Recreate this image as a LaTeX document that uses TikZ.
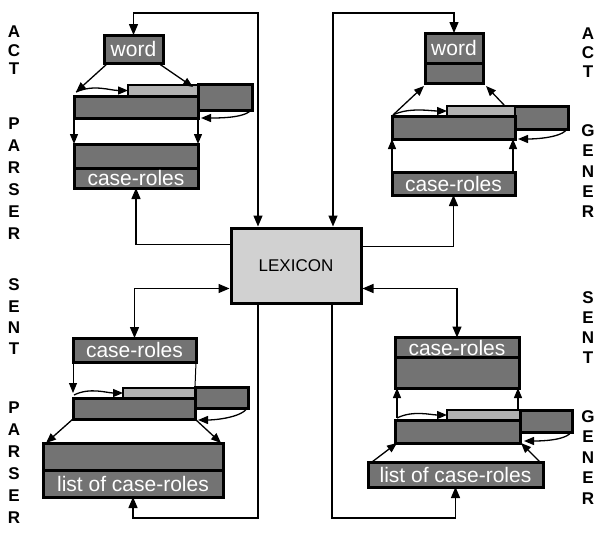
\documentclass[tikz,border=0pt]{standalone}
\usepackage{fontspec}
\setmainfont{Liberation Sans}
\usetikzlibrary{arrows.meta,calc}
\begin{document}
\begin{tikzpicture}[x=1pt,y=-1pt,
    hatch/.style={draw=black,line width=3pt,fill=black!55,inner sep=0pt,outer sep=0pt,text=white,font=\fontsize{21}{23}\selectfont},
    stripbox/.style={draw=black,line width=1.6pt,fill=black!30,inner sep=0pt,outer sep=0pt},
    lexbox/.style={draw=black,line width=3pt,fill=black!18,inner sep=0pt,minimum width=130,minimum height=75,font=\fontsize{17}{20}\selectfont},
    link/.style={line width=1.3pt,>={Triangle[length=11pt,width=9pt]}},
    flow/.style={line width=1.3pt,-{Triangle[length=10pt,width=8pt]}},
    sidelet/.style={font=\bfseries\fontsize{17}{20}\selectfont,inner sep=0pt}]
    \useasboundingbox (0,0) rectangle (598,538);
    \node[hatch,minimum width=59,minimum height=28] (apword) at (133.5,49) {word};
    \node[hatch,minimum width=54,minimum height=26] (apright) at (225,97) {};
    \node[stripbox,minimum width=70,minimum height=11] (apstrip) at (163,90.5) {};
    \node[hatch,minimum width=124,minimum height=22] (apbar) at (136,107) {};
    \node[hatch,minimum width=124,minimum height=24] (aptop) at (136,156) {};
    \node[hatch,minimum width=124,minimum height=20] (aproles) at (136,178) {case-roles};
    \draw[flow] ($(apword.south west)+(4,0)$) -- ($(apbar.north west)+(2,-4)$);
    \draw[flow] ($(apword.south east)+(-5,0)$) -- ($(apstrip.north east)+(-5,2)$);
    \draw[flow] ($(apbar.north west)+(2,-4)$) .. controls +(18,-8) and +(-18,0) .. (apstrip.west);
    \draw[flow] ($(apright.south east)+(0,-6)$) .. controls +(4,14) and +(20,0) .. ($(apbar.south east)+(3,0)$);
    \draw[flow] (apbar.south west) -- (aptop.north west);
    \draw[flow] (apbar.south east) -- (aptop.north east);
    \node[hatch,minimum width=58,minimum height=30] (agword) at (454,48) {word};
    \node[hatch,minimum width=58,minimum height=20] (agwbot) at (454,73) {};
    \node[hatch,minimum width=54,minimum height=23] (agright) at (541,117.5) {};
    \node[stripbox,minimum width=68,minimum height=10] (agstrip) at (481,111) {};
    \node[hatch,minimum width=123,minimum height=23] (agbar) at (453.5,127.5) {};
    \node[hatch,minimum width=123,minimum height=23] (agroles) at (453.5,183.5) {case-roles};
    \draw[flow] ($(agbar.north west)+(1,-1)$) -- ($(agwbot.south west)+(-1,3)$);
    \draw[flow] ($(agstrip.north east)+(-10,0)$) -- ($(agwbot.south east)+(3,3)$);
    \draw[flow] ($(agbar.north west)+(1,-1)$) .. controls +(16,-8) and +(-16,0) .. (agstrip.west);
    \draw[flow] ($(agright.south east)+(0,-6)$) .. controls +(4,14) and +(20,0) .. ($(agbar.south east)+(3,0)$);
    \draw[flow] (agroles.north west) -- (agbar.south west);
    \draw[flow] ($(agroles.north east)+(-2,0)$) -- ($(agbar.south east)+(-2,0)$);
    \node[hatch,minimum width=123,minimum height=24] (sproles) at (134.5,350) {case-roles};
    \node[hatch,minimum width=53,minimum height=21] (spright) at (221.5,397.5) {};
    \node[stripbox,minimum width=72,minimum height=10] (spstrip) at (159,393) {};
    \node[hatch,minimum width=122,minimum height=21] (spbar) at (134,408.5) {};
    \node[hatch,minimum width=180,minimum height=27] (sptop) at (133,456.5) {};
    \node[hatch,minimum width=180,minimum height=27] (splist) at (133,483.5) {list of case-roles};
    \draw[flow,line width=1pt] (sproles.south west) -- ($(spbar.north west)+(0,-5)$);
    \draw[line width=1pt] (sproles.south east) -- (spright.north west);
    \draw[flow] ($(spbar.north west)+(1,-3)$) .. controls +(16,-8) and +(-16,0) .. (spstrip.west);
    \draw[flow] ($(spright.south east)+(0,-6)$) .. controls +(4,14) and +(20,0) .. ($(spbar.south east)+(3,1)$);
    \draw[flow] (spbar.south west) -- ($(sptop.north west)+(3,0)$);
    \draw[flow] (spbar.south east) -- ($(sptop.north east)+(-2,0)$);
    \node[hatch,minimum width=124,minimum height=20] (sgroles) at (457,347.5) {case-roles};
    \node[hatch,minimum width=124,minimum height=31] (sgrbot) at (457,372.5) {};
    \node[hatch,minimum width=52,minimum height=22] (sgright) at (546,421) {};
    \node[stripbox,minimum width=73,minimum height=10] (sgstrip) at (483.5,415) {};
    \node[hatch,minimum width=125,minimum height=23] (sgbar) at (457.5,431.5) {};
    \node[hatch,minimum width=175,minimum height=25] (sglist) at (455.5,474.5) {list of case-roles};
    \draw[flow] ($(sgbar.north west)+(2,-2)$) -- ($(sgrbot.south west)+(2,0)$);
    \draw[flow] ($(sgstrip.north east)+(-2,0)$) -- ($(sgrbot.south east)+(-1,0)$);
    \draw[flow] ($(sgbar.north west)+(2,-2)$) .. controls +(16,-8) and +(-16,0) .. (sgstrip.west);
    \draw[flow] ($(sgright.south east)+(0,-6)$) .. controls +(4,14) and +(20,0) .. ($(sgbar.south east)+(4,-2)$);
    \draw[flow] ($(sglist.north west)+(4,0)$) -- ($(sgbar.south west)+(2,0)$);
    \draw[flow] ($(sglist.north east)+(-3,0)$) -- ($(sgbar.south east)+(1,0)$);
    \node[lexbox] (lex) at (296,265.5) {LEXICON};
    \coordinate (cTL) at (258,13); \coordinate (cTR) at (333,13);
    \coordinate (cBL) at (258,518); \coordinate (cBR) at (332,518);
    \draw[link,<->] (apword.north) |- (cTL) -- (cTL |- lex.north);
    \draw[link,<->] (agword.north) |- (cTR) -- (cTR |- lex.north);
    \draw[link,->] ($(lex.north west)+(0,18)$) -| (aproles.south);
    \draw[link,<->] ($(lex.south west)+(0,-16)$) -| (sproles.north);
    \draw[link,->] ($(lex.north east)+(0,20)$) -| (agroles.south);
    \draw[link,<->] ($(lex.south east)+(0,-16)$) -| (sgroles.north);
    \draw[link,->] (cBL |- lex.south) -- (cBL) -| (splist.south);
    \draw[link,->] (cBR |- lex.south) -- (cBR) -| (sglist.south);
    \foreach \ch/\yy [count=\i] in {A/32,C/51,T/69,P/124,A/146,R/168,S/190,E/212,R/234,S/285,E/307,N/328,T/349,P/408,A/430,R/452,S/474,E/496,R/518}
        \node[sidelet] (lt\i) at (14,\yy) {\ch};
    \foreach \ch/\yy [count=\i] in {A/34,C/53,T/72,G/131,E/151,N/172,E/192,R/212,S/298,E/318,N/338,T/358,G/417,E/437,N/458,E/478,R/499}
        \node[sidelet] (rt\i) at (588,\yy) {\ch};
\end{tikzpicture}
\end{document}
